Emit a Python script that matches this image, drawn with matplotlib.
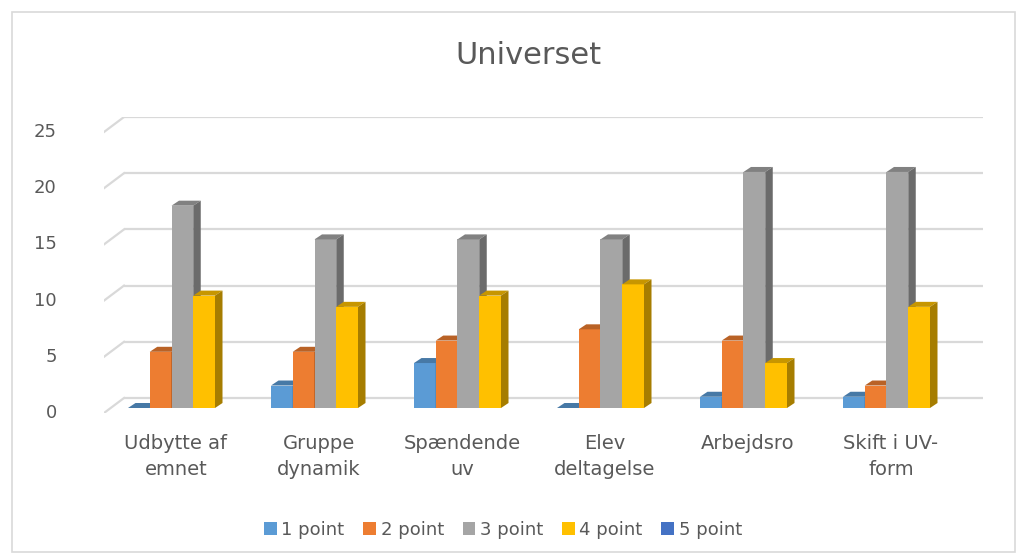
import matplotlib.pyplot as plt
import numpy as np
from matplotlib.patches import Polygon, Rectangle, Patch

# Data
categories = ['Udbytte af\nemnet', 'Gruppe\ndynamik', 'Spændende\nuv',
              'Elev\ndeltagelse', 'Arbejdsro', 'Skift i UV-\nform']
series_names = ['1 point', '2 point', '3 point', '4 point', '5 point']
point_1 = [0, 2, 4, 0, 1, 1]
point_2 = [5, 5, 6, 7, 6, 2]
point_3 = [18, 15, 15, 15, 21, 21]
point_4 = [10, 9, 10, 11, 4, 9]
point_5 = [None, None, None, None, None, None]   # ingen svar
y_ticks = [0, 5, 10, 15, 20, 25]

colors = ['#5B9BD5', '#ED7D31', '#A5A5A5', '#FFC000', '#4472C4']
text_color = '#595959'
grid_color = '#D9D9D9'

W, H = 1028, 560
fig = plt.figure(figsize=(W / 100, H / 100), dpi=100)

# ramme om diagrammet
fig.patches.append(Rectangle((12 / W, 8 / H), 1003 / W, 540 / H, transform=fig.transFigure,
                             fill=False, edgecolor=grid_color, linewidth=1.2))

# akse-geometri (pixel -> data)
px_x = 143.0        # pixel pr. kategori
px_y = 11.24        # pixel pr. enhed
x0_px = 176         # pixel for kategori 0
base_px = 408       # bund af søjlernes forside
left_px, right_px, bottom_px, top_px = 104, 983, 413, 117

ax = fig.add_axes([left_px / W, (H - bottom_px) / H,
                   (right_px - left_px) / W, (bottom_px - top_px) / H])
ax.set_xlim((left_px - x0_px) / px_x, (right_px - x0_px) / px_x)
ax.set_ylim((base_px - bottom_px) / px_y, (base_px - top_px) / px_y)
ax.axis('off')

wall_dy = 10 / px_y
front_dy = -5 / px_y
wall_x = (124 - x0_px) / px_x
front_x = (left_px - x0_px) / px_x

# gitterlinjer på bagvæggen + skrå linjer
for v in y_ticks:
    ax.plot([wall_x, ax.get_xlim()[1]], [v + wall_dy, v + wall_dy],
            color=grid_color, lw=1.6, zorder=0, solid_capstyle='butt')
    ax.plot([front_x, wall_x], [v + front_dy, v + wall_dy],
            color=grid_color, lw=1.6, zorder=0)
    ax.text(front_x - 0.33, v + front_dy, str(v), ha='right', va='center',
            fontsize=13, color=text_color)


def shade(c, f):
    c = np.array(plt.matplotlib.colors.to_rgb(c))
    return tuple(c * f)


# søjler med 3D-effekt
bar_w = 21.75 / px_x
first_left = -48 / px_x
ddx = 7.5 / px_x
ddy = 5 / px_y
xs = np.arange(len(categories))
all_series = [point_1, point_2, point_3, point_4, point_5]

for s, (vals, col) in enumerate(zip(all_series, colors)):
    z = 2 + s
    for i, v in enumerate(vals):
        if v is None:
            continue
        left = xs[i] + first_left + s * bar_w
        right = left + bar_w
        if v > 0:
            ax.bar(left, v, width=bar_w, align='edge', color=col, zorder=z, linewidth=0)
        top = [(left, v), (right, v), (right + ddx, v + ddy), (left + ddx, v + ddy)]
        ax.add_patch(Polygon(top, closed=True, facecolor=shade(col, 0.78),
                             edgecolor='none', zorder=z))
        if v > 0:
            side = [(right, 0), (right + ddx, ddy), (right + ddx, v + ddy), (right, v)]
            ax.add_patch(Polygon(side, closed=True, facecolor=shade(col, 0.65),
                                 edgecolor='none', zorder=z))

# kategorinavne
for i, lab in enumerate(categories):
    ax.text(xs[i], -2.3, lab, ha='center', va='top', fontsize=14,
            color=text_color, linespacing=1.5)

fig.text(528 / W, 1 - 56 / H, 'Universet', ha='center', va='center',
         fontsize=22, color=text_color)

handles = [Patch(facecolor=c, edgecolor='none') for c in colors]
fig.legend(handles, series_names, loc='center', bbox_to_anchor=(503 / W, 1 - 530 / H),
           ncol=5, frameon=False, fontsize=13, handlelength=0.7, handleheight=0.7,
           handletextpad=0.25, columnspacing=1.05, labelcolor=text_color)

fig.savefig('out.png', dpi=100)
